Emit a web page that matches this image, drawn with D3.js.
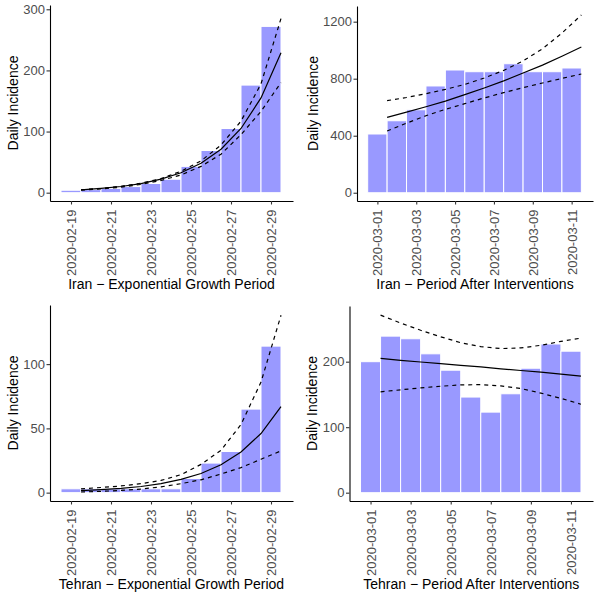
<!DOCTYPE html>
<html><head><meta charset="utf-8">
<script src="https://cdn.jsdelivr.net/npm/d3@7"></script>
<style>body{margin:0;background:#fff} svg{display:block}</style>
</head><body>
<svg id="chart" width="597" height="598"></svg>
<script>
// ---------------- data ----------------
const expDates  = ["2020-02-19","2020-02-20","2020-02-21","2020-02-22","2020-02-23","2020-02-24","2020-02-25","2020-02-26","2020-02-27","2020-02-28","2020-02-29"];
const postDates = ["2020-03-01","2020-03-02","2020-03-03","2020-03-04","2020-03-05","2020-03-06","2020-03-07","2020-03-08","2020-03-09","2020-03-10","2020-03-11"];

const iranExpCases  = [4, 5, 7, 10, 15, 22, 43, 69, 105, 176, 272];
const iranExpFit    = [4.6, 6.9, 10.1, 14.9, 22.1, 32.6, 48.2, 71, 105, 155, 229];
const iranExpLower  = [4.2, 6.2, 9, 13.5, 20, 29, 43, 63, 95, 133, 180];
const iranExpUpper  = [4.8, 7, 10.5, 15.5, 23, 35, 52, 78, 117, 178, 285];

const iranPostCases = [412, 505, 582, 749, 861, 849, 849, 905, 849, 849, 875];
const iranPostFit   = [529, 565, 603, 643, 688, 735, 785, 840, 895, 958, 1022];
const iranPostLower = [433, 488, 540, 585, 625, 665, 702, 737, 770, 802, 833];
const iranPostUpper = [646, 668, 695, 725, 760, 805, 858, 925, 1010, 1120, 1247];

const tehranExpCases = [3, 3, 3, 3, 3, 3, 11, 23, 32, 65, 114];
const tehranExpFit   = [1.6, 2.3, 3.3, 4.8, 7.0, 10.3, 14.9, 21.7, 31.6, 46, 67];
const tehranExpLower = [0.5, 1.0, 1.7, 2.8, 4.5, 7, 10, 14.5, 19.5, 26, 32.5];
const tehranExpUpper = [3, 4, 5.2, 7, 9.5, 14, 22, 33, 53, 86, 138];

const tehranPostCases = [200, 239, 235, 212, 187, 146, 123, 151, 190, 227, 216];
const tehranPostFit   = [205, 202, 199.5, 197, 194.5, 192, 189, 186.5, 184, 181, 178];
const tehranPostLower = [154, 157, 160, 162.5, 164.5, 165, 163, 159, 152, 144, 135];
const tehranPostUpper = [271, 259, 248, 238, 229, 223, 220, 221, 225, 231, 236];

const iranExpYTicks    = [0, 100, 200, 300];
const iranPostYTicks   = [0, 400, 800, 1200];
const tehranExpYTicks  = [0, 50, 100];
const tehranPostYTicks = [0, 100, 200];

const expXTicks  = ["2020-02-19","2020-02-21","2020-02-23","2020-02-25","2020-02-27","2020-02-29"];
const postXTicks = ["2020-03-01","2020-03-03","2020-03-05","2020-03-07","2020-03-09","2020-03-11"];

const titles = ["Iran − Exponential Growth Period", "Iran − Period After Interventions",
                "Tehran − Exponential Growth Period", "Tehran − Period After Interventions"];
const yTitle = "Daily Incidence";

// ---------------- layout ----------------
const parse = d3.utcParse("%Y-%m-%d");
const fmt = d3.utcFormat("%Y-%m-%d");
const DAY = 864e5;
const FONT = "'Liberation Sans', Arial, Helvetica, sans-serif";

const panels = [
  {dates: expDates, cases: iranExpCases, fit: iranExpFit, lo: iranExpLower, hi: iranExpUpper,
   yTicks: iranExpYTicks, xTicks: expXTicks, yDom: [-13.6, 307], title: titles[0],
   box: {l: 50, r: 293, t: 5, b: 201}, ylabX: 17.5, titleY: 289},
  {dates: postDates, cases: iranPostCases, fit: iranPostFit, lo: iranPostLower, hi: iranPostUpper,
   yTicks: iranPostYTicks, xTicks: postXTicks, yDom: [-58, 1310], title: titles[1],
   box: {l: 357, r: 593, t: 6, b: 201}, ylabX: 317.5, titleY: 289},
  {dates: expDates, cases: tehranExpCases, fit: tehranExpFit, lo: tehranExpLower, hi: tehranExpUpper,
   yTicks: tehranExpYTicks, xTicks: expXTicks, yDom: [-6.5, 146], title: titles[2],
   box: {l: 50, r: 293, t: 305, b: 501}, ylabX: 17.5, titleY: 589},
  {dates: postDates, cases: tehranPostCases, fit: tehranPostFit, lo: tehranPostLower, hi: tehranPostUpper,
   yTicks: tehranPostYTicks, xTicks: postXTicks, yDom: [-12.7, 285], title: titles[3],
   box: {l: 349.5, r: 593, t: 306, b: 501}, ylabX: 316.5, titleY: 589}
];

const svg = d3.select("#chart");

panels.forEach(p => {
  const d0 = parse(p.dates[0]);
  const x = d3.scaleUtc()
    .domain([new Date(+d0 - 1.05 * DAY), new Date(+d0 + 11.1 * DAY)])
    .range([p.box.l, p.box.r]);
  const y = d3.scaleLinear().domain(p.yDom).range([p.box.b, p.box.t]);
  const g = svg.append("g");

  // bars
  const bars = p.dates.map((d, i) => ({date: parse(d), v: p.cases[i]}));
  g.selectAll("rect.bar").data(bars).join("rect")
    .attr("class", "bar")
    .attr("x", d => x(new Date(+d.date - DAY / 2)))
    .attr("width", d => x(new Date(+d.date + DAY / 2)) - x(new Date(+d.date - DAY / 2)))
    .attr("y", d => y(d.v))
    .attr("height", d => y(0) - y(d.v))
    .attr("fill", "#9999ff")
    .attr("stroke", "#ffffff")
    .attr("stroke-width", 1);

  // fitted lines (drawn at half-day offsets)
  const line = d3.line().x(d => x(d.t)).y(d => y(d.v));
  const mk = arr => p.dates.map((d, i) => ({t: new Date(+parse(d) + DAY / 2), v: arr[i]}));
  [[p.hi, "4,4"], [p.lo, "4,4"], [p.fit, null]].forEach(([arr, dash]) => {
    g.append("path").datum(mk(arr))
      .attr("d", line)
      .attr("fill", "none")
      .attr("stroke", "#000")
      .attr("stroke-width", 1.2)
      .attr("stroke-dasharray", dash);
  });

  // y axis
  const ya = g.append("g").attr("transform", `translate(${p.box.l},0)`)
    .call(d3.axisLeft(y).tickValues(p.yTicks).tickFormat(d3.format("d"))
      .tickSize(3.5).tickSizeOuter(0).tickPadding(1.5));
  ya.select(".domain").attr("stroke", "#000").attr("stroke-width", 1.1);
  ya.selectAll(".tick line").attr("stroke", "#333").attr("stroke-width", 1.1);
  ya.selectAll(".tick text").attr("font-family", FONT).attr("font-size", 13).attr("fill", "#4d4d4d");

  // x axis
  const xa = g.append("g").attr("transform", `translate(0,${p.box.b})`)
    .call(d3.axisBottom(x).tickValues(p.xTicks.map(parse)).tickFormat(fmt).tickSize(3.5).tickSizeOuter(0));
  xa.select(".domain").attr("stroke", "#000").attr("stroke-width", 1.1);
  xa.selectAll(".tick line").attr("stroke", "#333").attr("stroke-width", 1.1);
  xa.selectAll(".tick text")
    .attr("font-family", FONT).attr("font-size", 13).attr("fill", "#4d4d4d")
    .attr("transform", "rotate(-90)")
    .attr("text-anchor", "end")
    .attr("x", -8.5).attr("y", 0).attr("dy", "0.35em");

  // titles
  g.append("text")
    .attr("x", (p.box.l + p.box.r) / 2).attr("y", p.titleY)
    .attr("text-anchor", "middle")
    .attr("font-family", FONT).attr("font-size", 14).attr("fill", "#000")
    .text(p.title);
  g.append("text")
    .attr("transform", `translate(${p.ylabX},${(p.box.t + p.box.b) / 2}) rotate(-90)`)
    .attr("text-anchor", "middle")
    .attr("font-family", FONT).attr("font-size", 14).attr("fill", "#000")
    .text(yTitle);
});
</script>
</body></html>
